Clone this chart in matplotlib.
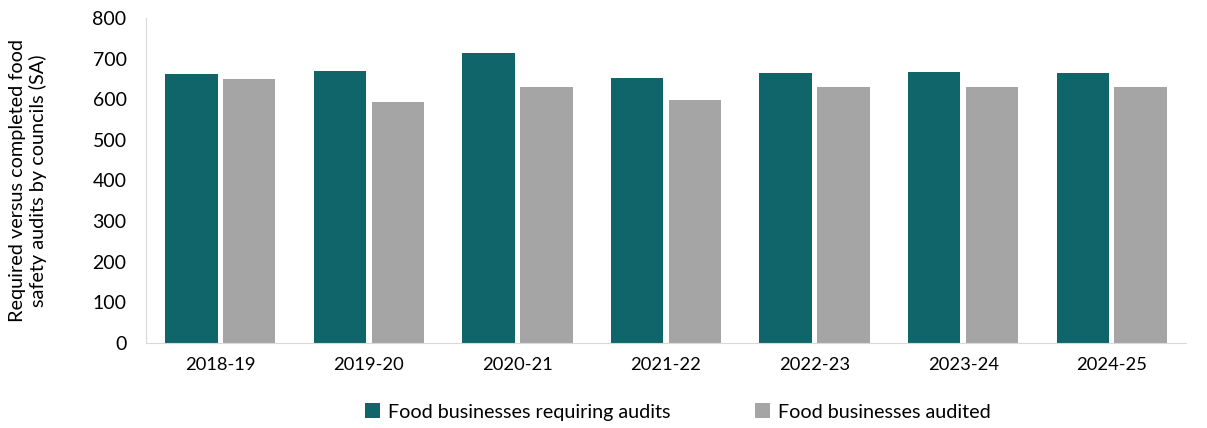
import numpy as np
import matplotlib.pyplot as plt

years = ["2018-19", "2019-20", "2020-21", "2021-22", "2022-23", "2023-24", "2024-25"]
requiring = [662, 670, 713, 652, 665, 666, 665]
audited = [651, 593, 630, 599, 630, 630, 630]

plt.rcParams['font.family'] = ['Lato', 'DejaVu Sans']

fig = plt.figure(figsize=(12.07, 4.28), dpi=100)
ax = fig.add_axes([146 / 1207, 1 - 343 / 428, (1186 - 146) / 1207, (343 - 18) / 428])

x = np.arange(len(years))
w = 0.353
gap = 0.036
ax.bar(x - (w + gap) / 2, requiring, width=w, color='#10656A', label='Food businesses requiring audits')
ax.bar(x + (w + gap) / 2, audited, width=w, color='#A5A5A5', label='Food businesses audited')

ax.set_xlim(-0.5, len(years) - 0.5)
ax.set_ylim(0, 800)
ax.set_yticks(range(0, 801, 100))
ax.set_xticks(x)
ax.set_xticklabels(years)
ax.tick_params(axis='both', length=0, colors='#000000')
ax.tick_params(axis='y', pad=14, labelsize=14)
ax.tick_params(axis='x', pad=10, labelsize=13.2)

for s in ['top', 'right']:
    ax.spines[s].set_visible(False)
for s in ['left', 'bottom']:
    ax.spines[s].set_color('#D9D9D9')

# axis title sits close to the left edge of the figure
ax.set_ylabel('Required versus completed food\nsafety audits by councils (SA)', fontsize=14.3, labelpad=33)

fig.legend(loc='center', bbox_to_anchor=(678 / 1207, 1 - 412 / 428), ncol=2, frameon=False,
           fontsize=14.2, handlelength=0.75, handleheight=0.75, columnspacing=4.3, handletextpad=0.4)

fig.savefig('out.png', dpi=100)
